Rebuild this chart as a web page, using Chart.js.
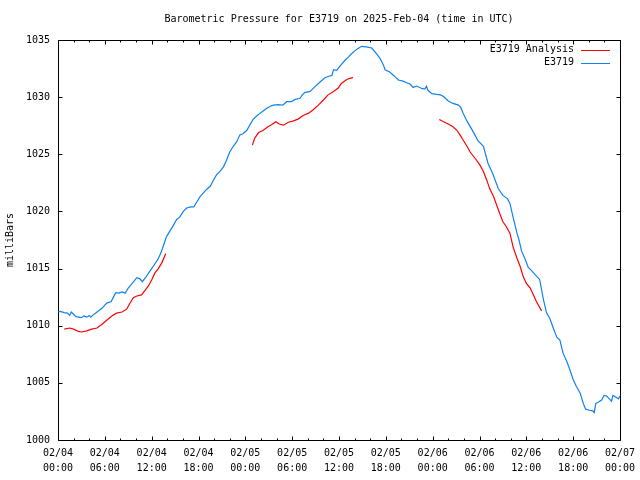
<!DOCTYPE html>
<html>
<head>
<meta charset="utf-8">
<title>Barometric Pressure for E3719</title>
<script src="https://cdn.jsdelivr.net/npm/chart.js@4"></script>
<style>
  html, body { margin: 0; padding: 0; background: #fff; }
</style>
</head>
<body>
<canvas id="pressureChart" width="640" height="480"></canvas>
<script>
// hours after 02/04 00:00 UTC
const stationHours = [
  0.0, 0.3, 0.8, 1.2, 1.5, 1.7, 2.0, 2.3, 2.7, 3.0, 3.3, 3.7, 4.0, 4.2, 4.5, 4.8,
  5.2, 5.6, 6.0, 6.3, 6.8, 7.1, 7.4, 7.8, 8.2, 8.6, 9.0, 9.5, 10.1, 10.5, 10.8, 11.2,
  11.6, 12.0, 12.4, 12.8, 13.2, 13.5, 13.9, 14.35, 14.8, 15.2, 15.6, 16.05, 16.5, 17.0,
  17.4, 17.8, 18.2, 18.6, 19.0, 19.5, 19.9, 20.3, 20.75, 21.2, 21.6, 22.0, 22.46, 22.9,
  23.3, 23.7, 24.2, 24.6, 25.0, 25.45, 25.9, 26.7, 27.2, 27.6, 28.2, 28.8, 29.3, 29.9,
  30.4, 31.0, 31.3, 31.6, 32.3, 32.9, 33.6, 34.2, 34.8, 35.1, 35.3, 35.7, 36.1, 36.8,
  37.2, 37.6, 38.3, 38.9, 39.5, 40.2, 40.8, 41.25, 41.7, 41.9, 42.5, 43.0, 43.6, 44.2,
  44.9, 45.1, 45.5, 45.95, 46.6, 47.0, 47.2, 47.4, 47.9, 48.5, 49.0, 49.4, 50.0, 50.6,
  51.3, 51.6, 51.9, 52.4, 53.0, 53.8, 54.5, 55.1, 55.7, 56.4, 57.0, 57.6, 57.9, 58.3,
  58.8, 59.06, 59.4, 59.8, 60.25, 60.7, 61.1, 61.7, 61.8, 62.2, 62.6, 63.0, 63.45, 63.9,
  64.3, 64.7, 65.2, 65.6, 66.0, 66.4, 66.9, 67.3, 67.6, 68.1, 68.5, 68.7, 68.9, 69.2,
  69.65, 69.95, 70.3, 70.7, 70.9, 71.1, 71.6, 71.8, 72.0
];
const stationPressure = [
  1011.2, 1011.25, 1011.15, 1011.1, 1010.9, 1011.2, 1011.0, 1010.8, 1010.75, 1010.7, 1010.85, 1010.75, 1010.9, 1010.75, 1010.95, 1011.1,
  1011.3, 1011.5, 1011.8, 1012.0, 1012.1, 1012.5, 1012.9, 1012.85, 1012.95, 1012.85, 1013.3, 1013.7, 1014.2, 1014.1, 1013.85, 1014.2,
  1014.6, 1015.0, 1015.4, 1015.8, 1016.4, 1017.0, 1017.8, 1018.3, 1018.8, 1019.3, 1019.5, 1020.0, 1020.3, 1020.4,
  1020.4, 1020.85, 1021.3, 1021.6, 1021.9, 1022.2, 1022.7, 1023.2, 1023.5, 1023.9, 1024.5, 1025.2, 1025.7, 1026.1,
  1026.7, 1026.8, 1027.1, 1027.6, 1028.05, 1028.35, 1028.6, 1029.0, 1029.2, 1029.3, 1029.35, 1029.3, 1029.6, 1029.6,
  1029.8, 1029.9, 1030.2, 1030.4, 1030.5, 1030.9, 1031.35, 1031.7, 1031.85, 1031.9, 1032.4, 1032.35, 1032.7, 1033.25,
  1033.5, 1033.8, 1034.2, 1034.45, 1034.4, 1034.3, 1033.8, 1033.4, 1032.8, 1032.4, 1032.2, 1031.9, 1031.5, 1031.4,
  1031.2, 1031.15, 1030.85, 1030.97, 1030.76, 1030.7, 1030.95, 1030.6, 1030.3, 1030.24, 1030.2, 1030.05, 1029.66, 1029.45,
  1029.3, 1029.1, 1028.6, 1027.9, 1027.2, 1026.2, 1025.7, 1024.2, 1023.3, 1022.0, 1021.4, 1021.1, 1020.7, 1019.5,
  1018.1, 1017.5, 1016.5, 1015.9, 1015.1, 1014.8, 1014.5, 1014.05, 1013.7, 1012.25, 1011.1, 1010.65, 1009.8, 1009.0,
  1008.75, 1007.6, 1006.85, 1006.1, 1005.3, 1004.7, 1004.1, 1003.2, 1002.7, 1002.6, 1002.55, 1002.4, 1003.2, 1003.3,
  1003.5, 1003.9, 1003.85, 1003.56, 1003.4, 1003.9, 1003.7, 1003.6, 1003.85
];

// analysis runs in three pieces, null = break
const analysisHours = [
  0.8, 1.5, 2.0, 2.6, 3.0, 3.7, 4.3, 5.0, 5.6, 6.2, 6.9, 7.5, 8.2, 8.8, 9.2, 9.65,
  10.1, 10.7, 11.15, 11.6, 12.0, 12.4, 12.85, 13.3, 13.8,
  19.0,
  24.9, 25.2, 25.7, 26.3, 26.9, 27.4, 27.9, 28.35, 28.9, 29.5, 30.1, 30.8, 31.4, 32.1,
  32.7, 33.35, 34.0, 34.6, 35.3, 35.9, 36.3, 37.0, 37.4, 37.8,
  43.0,
  48.85, 49.4, 50.0, 50.6, 51.1, 51.5, 51.9, 52.4, 52.8, 53.2, 53.6, 54.06, 54.5, 54.9,
  55.3, 55.8, 56.6, 57.0, 57.4, 57.9, 58.3, 58.8, 59.2, 59.6, 60.0, 60.5, 60.9, 61.3, 61.95
];
const analysisPressure = [
  1009.7, 1009.8, 1009.7, 1009.5, 1009.45, 1009.55, 1009.7, 1009.8, 1010.1, 1010.45, 1010.85, 1011.1, 1011.2, 1011.45, 1011.95, 1012.45,
  1012.6, 1012.7, 1013.1, 1013.5, 1014.0, 1014.6, 1015.0, 1015.5, 1016.3,
  null,
  1025.8, 1026.4, 1026.9, 1027.1, 1027.4, 1027.6, 1027.85, 1027.65, 1027.55, 1027.8, 1027.9, 1028.1, 1028.4, 1028.6,
  1028.9, 1029.3, 1029.75, 1030.2, 1030.5, 1030.8, 1031.2, 1031.55, 1031.65, 1031.7,
  null,
  1028.05, 1027.85, 1027.65, 1027.4, 1027.1, 1026.7, 1026.25, 1025.7, 1025.2, 1024.85, 1024.5, 1024.05, 1023.5, 1022.8,
  1022.0, 1021.3, 1019.8, 1019.1, 1018.7, 1018.1, 1016.9, 1015.9, 1015.2, 1014.3, 1013.7, 1013.3, 1012.7, 1012.1, 1011.3
];

const tickDays = ['02/04', '02/04', '02/04', '02/04', '02/05', '02/05', '02/05', '02/05',
                  '02/06', '02/06', '02/06', '02/06', '02/07'];
const tickTimes = ['00:00', '06:00', '12:00', '18:00', '00:00', '06:00', '12:00', '18:00',
                   '00:00', '06:00', '12:00', '18:00', '00:00'];

const RED = '#ff0000';
const BLUE = '#1082f0';
const FONT = '"DejaVu Sans Mono", "Liberation Mono", monospace';

function toPoints(hours, values) {
  return hours.map((h, i) => ({ x: h, y: values[i] }));
}

// gnuplot-like frame, inward ticks, titles and legend
const gnuFrame = {
  id: 'gnuFrame',
  beforeDatasetsDraw(chart) {
    const { ctx, chartArea: a, scales: { x, y } } = chart;
    ctx.save();
    ctx.strokeStyle = '#000';
    ctx.lineWidth = 1;
    ctx.beginPath();
    ctx.rect(a.left + 0.5, a.top + 0.5, a.right - a.left, a.bottom - a.top);
    for (let h = 0; h <= 72; h += 2) {
      const px = Math.round(x.getPixelForValue(h)) + 0.5;
      const len = h % 6 === 0 ? 4 : 2;
      ctx.moveTo(px, a.bottom + 0.5); ctx.lineTo(px, a.bottom + 0.5 - len);
      ctx.moveTo(px, a.top + 0.5); ctx.lineTo(px, a.top + 0.5 + len);
    }
    for (let v = 1000; v <= 1035; v += 5) {
      const py = Math.round(y.getPixelForValue(v)) + 0.5;
      ctx.moveTo(a.left + 0.5, py); ctx.lineTo(a.left + 4.5, py);
      ctx.moveTo(a.right + 0.5, py); ctx.lineTo(a.right - 3.5, py);
    }
    ctx.stroke();
    ctx.restore();
  },
  afterDraw(chart) {
    const { ctx, chartArea: a } = chart;
    ctx.save();
    ctx.fillStyle = '#000';
    ctx.font = '10px ' + FONT;
    ctx.textBaseline = 'middle';

    ctx.textAlign = 'center';
    ctx.fillText('Barometric Pressure for E3719 on 2025-Feb-04 (time in UTC)', (a.left + a.right) / 2, 19);

    ctx.save();
    ctx.translate(10, (a.top + a.bottom) / 2);
    ctx.rotate(-Math.PI / 2);
    ctx.fillText('milliBars', 0, 0);
    ctx.restore();

    ctx.textAlign = 'right';
    chart.data.datasets.forEach((ds, i) => {
      const ly = a.top + 9.5 + i * 13;
      ctx.fillStyle = '#000';
      ctx.fillText(ds.label, a.right - 46, ly);
      ctx.strokeStyle = ds.borderColor;
      ctx.lineWidth = 1;
      ctx.beginPath();
      ctx.moveTo(a.right - 39, Math.round(ly) + 0.5);
      ctx.lineTo(a.right - 10, Math.round(ly) + 0.5);
      ctx.stroke();
    });
    ctx.restore();
  }
};

new Chart(document.getElementById('pressureChart'), {
  type: 'line',
  data: {
    datasets: [
      {
        label: 'E3719 Analysis',
        data: toPoints(analysisHours, analysisPressure),
        borderColor: RED,
        borderWidth: 1.2,
        pointRadius: 0,
        spanGaps: false
      },
      {
        label: 'E3719',
        data: toPoints(stationHours, stationPressure),
        borderColor: BLUE,
        borderWidth: 1.2,
        pointRadius: 0
      }
    ]
  },
  options: {
    responsive: false,
    animation: false,
    layout: { padding: { top: 40, right: 20, left: 0, bottom: 0 } },
    plugins: {
      legend: { display: false },
      title: { display: false },
      tooltip: { enabled: false }
    },
    scales: {
      x: {
        type: 'linear',
        min: 0,
        max: 72,
        grid: { display: false, drawTicks: false },
        border: { display: false },
        afterFit(s) {
          s.height = 40;
          s.paddingLeft = 0;
          s.paddingRight = 0;
        },
        ticks: {
          stepSize: 6,
          autoSkip: false,
          maxRotation: 0,
          padding: 6,
          color: '#000',
          font: { family: FONT, size: 10, lineHeight: 1.5 },
          callback(v) {
            const i = Math.round(v / 6);
            return [tickDays[i], tickTimes[i]];
          }
        }
      },
      y: {
        min: 1000,
        max: 1035,
        grid: { display: false, drawTicks: false },
        border: { display: false },
        afterFit(s) { s.width = 58; },
        ticks: {
          stepSize: 5,
          padding: 8,
          color: '#000',
          font: { family: FONT, size: 10 },
          callback(v) { return String(v); }
        }
      }
    }
  },
  plugins: [gnuFrame]
});
</script>
</body>
</html>
